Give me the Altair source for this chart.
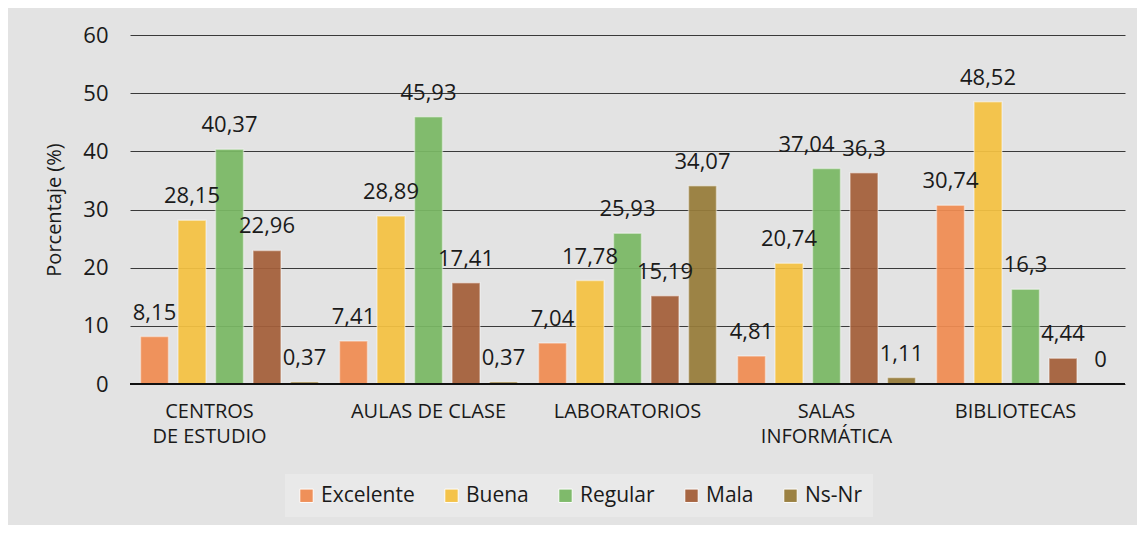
import altair as alt
import pandas as pd

categories = ["CENTROS|DE ESTUDIO", "AULAS DE CLASE", "LABORATORIOS", "SALAS|INFORMÁTICA", "BIBLIOTECAS"]
series = ["Excelente", "Buena", "Regular", "Mala", "Ns-Nr"]
colors = ["#f08c52", "#f5c242", "#7ab865", "#a45f3a", "#977c3a"]

excelente = [8.15, 7.41, 7.04, 4.81, 30.74]
buena = [28.15, 28.89, 17.78, 20.74, 48.52]
regular = [40.37, 45.93, 25.93, 37.04, 16.3]
mala = [22.96, 17.41, 15.19, 36.3, 4.44]
nsnr = [0.37, 0.37, 34.07, 1.11, 0]

rows = []
for s, vals in zip(series, [excelente, buena, regular, mala, nsnr]):
    for c, v in zip(categories, vals):
        rows.append({"cat": c, "serie": s, "value": v})
df = pd.DataFrame(rows)

FONT = "Open Sans"
TXT = "#1a1a1a"

base = alt.Chart(df).transform_calculate(
    lab="replace(toString(datum.value), '.', ',')"
)

x = alt.X("cat:N", sort=categories, title=None,
          scale=alt.Scale(paddingInner=0, paddingOuter=0),
          axis=alt.Axis(labelExpr="split(datum.label, '|')", labelAngle=0,
                        labelFontSize=20, labelColor=TXT, labelPadding=17,
                        labelLineHeight=25, ticks=False, domain=False, labelFont=FONT,
                        labelOffset={"condition": [
                            {"test": "datum.value == 'CENTROS|DE ESTUDIO'", "value": -20},
                            {"test": "datum.value == 'BIBLIOTECAS'", "value": -10}],
                                     "value": 0}))
xo = alt.XOffset("serie:N", sort=series,
                 scale=alt.Scale(paddingInner=0.253, paddingOuter=0.28))
y = alt.Y("value:Q", title="Porcentaje (%)",
          scale=alt.Scale(domain=[0, 60], nice=False),
          axis=alt.Axis(values=[0, 10, 20, 30, 40, 50, 60], ticks=False, domain=False,
                        labelFontSize=22, labelColor=TXT, labelPadding=22,
                        titleFontSize=20, titleFontWeight="normal", titleColor=TXT,
                        titlePadding=18, labelFont=FONT, titleFont=FONT,
                        grid=True, gridColor="#3a3a3a", gridWidth=1))

bars = base.mark_bar(stroke="#ffffff", strokeOpacity=0.45, strokeWidth=1.5, opacity=0.93).encode(
    x=x, xOffset=xo, y=y,
    color=alt.Color("serie:N", sort=series,
                    scale=alt.Scale(domain=series, range=colors),
                    legend=alt.Legend(title=None, orient="none", direction="horizontal",
                                      legendX=155, legendY=439,
                                      fillColor="#e9e9e9", padding=11,
                                      labelFontSize=21, labelFont=FONT, labelColor=TXT,
                                      symbolType="square", symbolSize=180,
                                      symbolStrokeColor="#ffffff", symbolStrokeWidth=1,
                                      symbolOpacity=0.95,
                                      labelOffset=4, columnPadding=26))
)

is_special = "datum.serie == 'Regular' && datum.cat == 'SALAS|INFORMÁTICA'"

labels = base.transform_filter("!(" + is_special + ")").mark_text(
    baseline="alphabetic", dy=-17, fontSize=22, font=FONT, color=TXT).encode(
    x=alt.X("cat:N", sort=categories),
    xOffset=xo,
    y="value:Q",
    text="lab:N",
)

labels_shift = base.transform_filter(is_special).mark_text(
    baseline="alphabetic", dy=-17, dx=-20, fontSize=22, font=FONT, color=TXT).encode(
    x=alt.X("cat:N", sort=categories),
    xOffset=xo,
    y="value:Q",
    text="lab:N",
)

zero = alt.Chart(pd.DataFrame({"z": [0]})).mark_rule(color="#111111", strokeWidth=2).encode(
    y="z:Q"
)

chart = alt.layer(bars, zero, labels, labels_shift).properties(
    width=995, height=349,
    autosize=alt.AutoSizeParams(type="none"),
    padding={"left": 122, "top": 27, "right": 12, "bottom": 141},
    background="#e3e3e3",
).configure_view(stroke=None)

chart.save("out.html", embed_options={"renderer": "svg", "actions": False})
